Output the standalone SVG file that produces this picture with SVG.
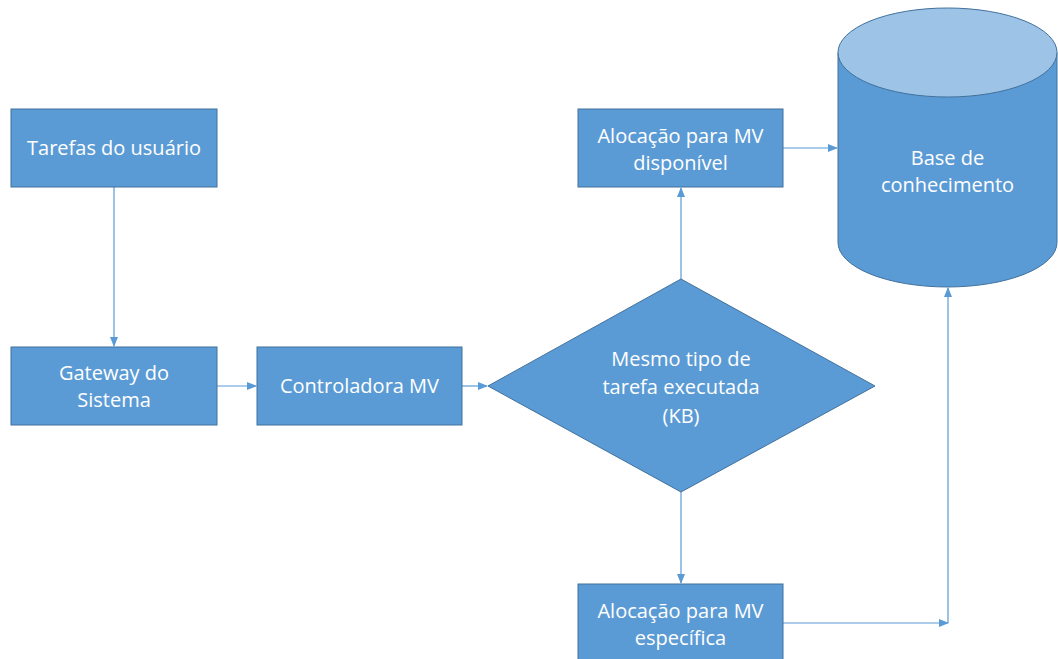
<svg xmlns="http://www.w3.org/2000/svg" width="1058" height="659" viewBox="0 0 1058 659">
<defs>
<style>
.box{fill:#5B9BD5;stroke:#41719C;stroke-width:1}
.lbl{font-family:"Open Sans","Liberation Sans",sans-serif;font-size:20px;fill:#FFFFFF;text-anchor:middle}
.con{fill:none;stroke:#5B9BD5;stroke-width:1.2}
</style>
<marker id="ah" markerWidth="10" markerHeight="8" refX="9" refY="4" orient="auto" markerUnits="userSpaceOnUse">
<path d="M0,0 L10,4 L0,8 Z" fill="#5B9BD5"/>
</marker>
</defs>
<rect width="1058" height="659" fill="#FFFFFF"/>
<g id="connectors">
<line class="con" x1="114" y1="187" x2="114" y2="346" marker-end="url(#ah)"/>
<line class="con" x1="217" y1="386" x2="256" y2="386" marker-end="url(#ah)"/>
<line class="con" x1="462" y1="386" x2="487" y2="386" marker-end="url(#ah)"/>
<line class="con" x1="681" y1="279" x2="681" y2="188" marker-end="url(#ah)"/>
<line class="con" x1="681" y1="492" x2="681" y2="583" marker-end="url(#ah)"/>
<line class="con" x1="783" y1="148" x2="837" y2="148" marker-end="url(#ah)"/>
<line class="con" x1="783" y1="623" x2="948" y2="623" marker-end="url(#ah)"/>
<line class="con" x1="948" y1="623" x2="948" y2="288" marker-end="url(#ah)"/>
</g>
<g id="tarefas">
<rect class="box" x="11" y="109" width="206" height="78"/>
<text class="lbl" x="114" y="155">Tarefas do usuário</text>
</g>
<g id="gateway">
<rect class="box" x="11" y="347" width="206" height="78"/>
<text class="lbl" x="114" y="380">Gateway do</text>
<text class="lbl" x="114" y="407">Sistema</text>
</g>
<g id="controladora">
<rect class="box" x="257" y="347" width="205" height="78"/>
<text class="lbl" x="359.5" y="393">Controladora MV</text>
</g>
<g id="decisao">
<polygon class="box" points="681,279 875,386 681,492 488,386"/>
<text class="lbl" x="681" y="366">Mesmo tipo de</text>
<text class="lbl" x="681" y="394">tarefa executada</text>
<text class="lbl" x="681" y="423">(KB)</text>
</g>
<g id="disponivel">
<rect class="box" x="578" y="109" width="205" height="78"/>
<text class="lbl" x="680.5" y="143">Alocação para MV</text>
<text class="lbl" x="680.5" y="170">disponível</text>
</g>
<g id="especifica">
<rect class="box" x="578" y="584" width="205" height="80"/>
<text class="lbl" x="680.5" y="618">Alocação para MV</text>
<text class="lbl" x="680.5" y="645">específica</text>
</g>
<g id="base">
<path class="box" d="M838,52.5 L838,242.5 A109.5,44.5 0 0 0 1057,242.5 L1057,52.5 Z"/>
<ellipse cx="947.5" cy="52.5" rx="109.5" ry="44.5" fill="#9DC3E6" stroke="#41719C" stroke-width="1"/>
<text class="lbl" x="947.5" y="165">Base de</text>
<text class="lbl" x="947.5" y="192">conhecimento</text>
</g>
</svg>
